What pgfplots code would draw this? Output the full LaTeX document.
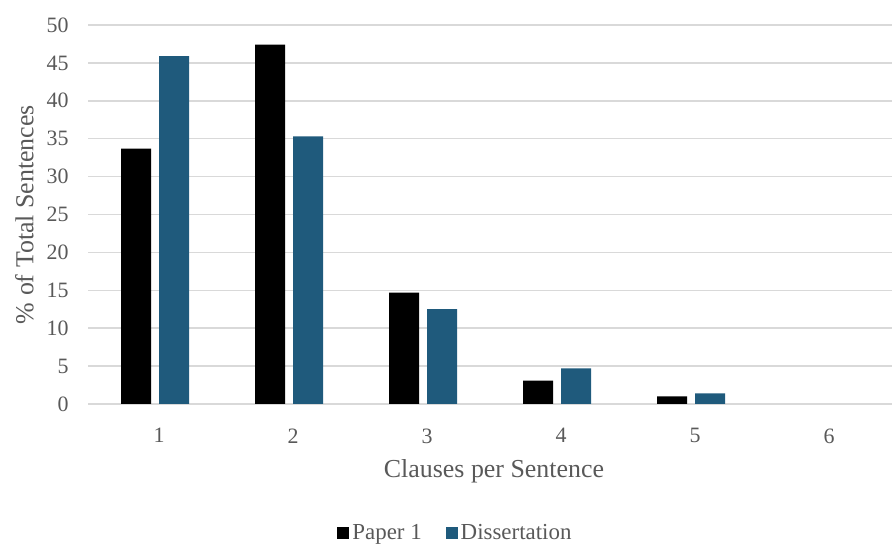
\documentclass[border=0pt]{standalone}
\usepackage{pgfplots}
\pgfplotsset{compat=1.18}
\usepackage{fontspec}
\setmainfont{Liberation Serif}
\definecolor{txtgray}{HTML}{595959}
\definecolor{gridgray}{HTML}{D9D9D9}
\definecolor{dissblue}{HTML}{1F5A7C}

\begin{document}
\begin{tikzpicture}
\useasboundingbox (0,0) rectangle (892bp,547bp);
\begin{axis}[
  at={(88bp,143bp)}, anchor=south west,
  scale only axis, width=804bp, height=379bp,
  xmin=0.5, xmax=6.5, ymin=0, ymax=50,
  xtick={1,2,3,4,5,6},
  ytick={0,5,...,50},
  ymajorgrids, grid style={gridgray, line width=1.5bp},
  axis line style={draw=none},
  major tick length=0pt,
  tick label style={font=\fontsize{22}{24}\selectfont, text=txtgray},
  /pgf/number format/assume math mode=true,
  yticklabel style={xshift=-16bp},
  xticklabel style={yshift=-21bp, xshift=4bp},
  xlabel={Clauses per Sentence},
  ylabel={\% of Total Sentences},
  label style={font=\fontsize{26}{28}\selectfont, text=txtgray},
  xlabel style={yshift=-9bp, xshift=4bp},
  ylabel style={yshift=6bp},
  ybar, bar width=30bp,
  legend style={at={(0.457,-0.34)}, anchor=center, draw=none, fill=none,
    font=\fontsize{23}{25}\selectfont, text=txtgray,
    legend columns=2, /tikz/every even column/.append style={column sep=22bp},
    /tikz/every odd column/.append style={column sep=1bp}},
  legend image code/.code={\fill[#1] (0bp,-6bp) rectangle (12bp,6bp);},
]
\addplot[fill=black, draw=none, bar shift=-19bp] coordinates {
  (1,33.7) (2,47.4) (3,14.7) (4,3.1) (5,1.0)};
\addplot[fill=dissblue, draw=none, bar shift=19bp] coordinates {
  (1,45.9) (2,35.3) (3,12.5) (4,4.7) (5,1.4)};
\legend{Paper 1, Dissertation}
\end{axis}
\end{tikzpicture}
\end{document}
